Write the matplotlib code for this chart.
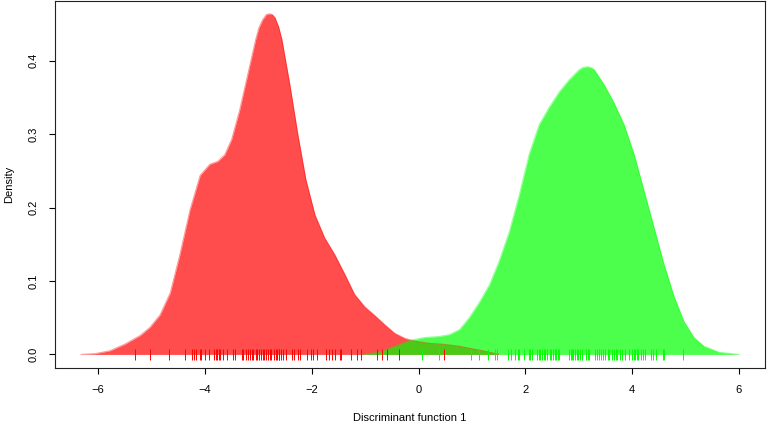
import matplotlib
matplotlib.use('Agg')
from matplotlib import pyplot as plt

plt.rcParams['font.family'] = ['Liberation Sans', 'DejaVu Sans']

# density curve of group 1 (red)
red_x = [-6.32, -6.06, -5.78, -5.50, -5.21, -5.03, -4.84, -4.65, -4.47, -4.28,
         -4.09, -3.91, -3.76, -3.63, -3.50, -3.35, -3.20, -3.05, -2.99, -2.92,
         -2.85, -2.79, -2.74, -2.69, -2.62, -2.56, -2.41, -2.26, -2.11, -1.94,
         -1.76, -1.57, -1.38, -1.20, -1.01, -0.82, -0.64, -0.45, -0.26, -0.07,
         0.21, 0.49, 0.77, 1.05, 1.33, 1.50]
red_y = [0.000, 0.001, 0.005, 0.014, 0.026, 0.037, 0.054, 0.084, 0.136, 0.197,
         0.244, 0.259, 0.263, 0.272, 0.293, 0.333, 0.381, 0.429, 0.445, 0.456,
         0.463, 0.464, 0.463, 0.459, 0.446, 0.429, 0.367, 0.299, 0.238, 0.190,
         0.159, 0.136, 0.109, 0.082, 0.065, 0.053, 0.041, 0.029, 0.022, 0.018,
         0.015, 0.0136, 0.011, 0.007, 0.003, 0.000]

# density curve of group 2 (green)
green_x = [-1.03, -0.73, -0.45, -0.17, 0.11, 0.39, 0.58, 0.77, 0.95, 1.14,
           1.33, 1.51, 1.70, 1.89, 2.07, 2.26, 2.45, 2.64, 2.82, 3.01,
           3.08, 3.16, 3.22, 3.29, 3.48, 3.66, 3.85, 4.04, 4.22, 4.41,
           4.60, 4.79, 4.97, 5.16, 5.35, 5.63, 6.00]
green_y = [0.000, 0.003, 0.011, 0.019, 0.023, 0.0245, 0.027, 0.034, 0.050, 0.071,
           0.095, 0.127, 0.167, 0.218, 0.272, 0.313, 0.337, 0.358, 0.374, 0.388,
           0.391, 0.392, 0.391, 0.388, 0.367, 0.343, 0.313, 0.272, 0.224, 0.173,
           0.122, 0.078, 0.045, 0.023, 0.011, 0.003, 0.000]

# rug: discriminant scores of each observation
red_rug = [-5.31, -5.03, -4.68, -4.38, -4.25, -4.21, -4.16, -4.10, -4.07, -4.00,
           -3.92, -3.83, -3.80, -3.77, -3.74, -3.72, -3.66, -3.58, -3.48, -3.43,
           -3.31, -3.28, -3.24, -3.20, -3.15, -3.12, -3.10, -3.05, -3.02, -2.98,
           -2.95, -2.92, -2.89, -2.86, -2.82, -2.79, -2.76, -2.71, -2.67, -2.65,
           -2.62, -2.61, -2.57, -2.53, -2.48, -2.37, -2.33, -2.26, -2.22, -2.09,
           -2.02, -1.97, -1.90, -1.73, -1.68, -1.62, -1.57, -1.48, -1.46, -1.26,
           -1.16, -1.07, -0.77, -0.68, -0.60, -0.37, 0.48]
green_rug = [0.06, 0.39, 0.99, 1.14, 1.30, 1.44, 1.47, 1.68, 1.73, 1.81,
             1.86, 1.89, 1.98, 2.06, 2.09, 2.13, 2.21, 2.25, 2.28, 2.31,
             2.35, 2.37, 2.40, 2.46, 2.49, 2.52, 2.55, 2.58, 2.62, 2.64,
             2.82, 2.85, 2.88, 2.90, 2.94, 2.96, 2.99, 3.02, 3.06, 3.14,
             3.17, 3.20, 3.30, 3.35, 3.38, 3.42, 3.46, 3.50, 3.54, 3.57,
             3.63, 3.67, 3.70, 3.72, 3.77, 3.81, 3.87, 3.95, 3.99, 4.03,
             4.06, 4.09, 4.11, 4.17, 4.20, 4.25, 4.36, 4.40, 4.45, 4.57,
             4.59, 4.96]

fig = plt.figure(figsize=(7.67, 4.23), dpi=100)
ax = fig.add_axes([55 / 767, 55 / 423, 710 / 767, 367 / 423])

ax.fill_between(red_x, red_y, 0, color=(1, 0, 0), alpha=0.7, lw=0)
ax.plot(red_x, red_y, color=(1, 0, 0), alpha=0.4, lw=0.8, solid_joinstyle='round')
ax.fill_between(green_x, green_y, 0, color=(0, 1, 0), alpha=0.7, lw=0)
ax.plot(green_x, green_y, color=(0, 1, 0), alpha=0.4, lw=0.8, solid_joinstyle='round')

ax.vlines(red_rug, -0.007, 0.008, color='#ff0000', lw=0.7)
ax.vlines(green_rug, -0.007, 0.008, color='#00ff00', lw=0.7)

ax.set_xlim(-6.81, 6.49)
ax.set_ylim(-0.0185, 0.4815)
ax.set_xticks([-6, -4, -2, 0, 2, 4, 6])
ax.set_yticks([0.0, 0.1, 0.2, 0.3, 0.4])
ax.set_yticklabels(['0.0', '0.1', '0.2', '0.3', '0.4'], rotation=90, va='center')
ax.tick_params(length=4, width=0.8, labelsize=8, pad=8)
for s in ax.spines.values():
    s.set_linewidth(0.8)
    s.set_color('#222222')

ax.set_xlabel('Discriminant function 1', fontsize=8, labelpad=13)
ax.set_ylabel('Density', fontsize=8, labelpad=10)

fig.savefig('out.png', dpi=100)
